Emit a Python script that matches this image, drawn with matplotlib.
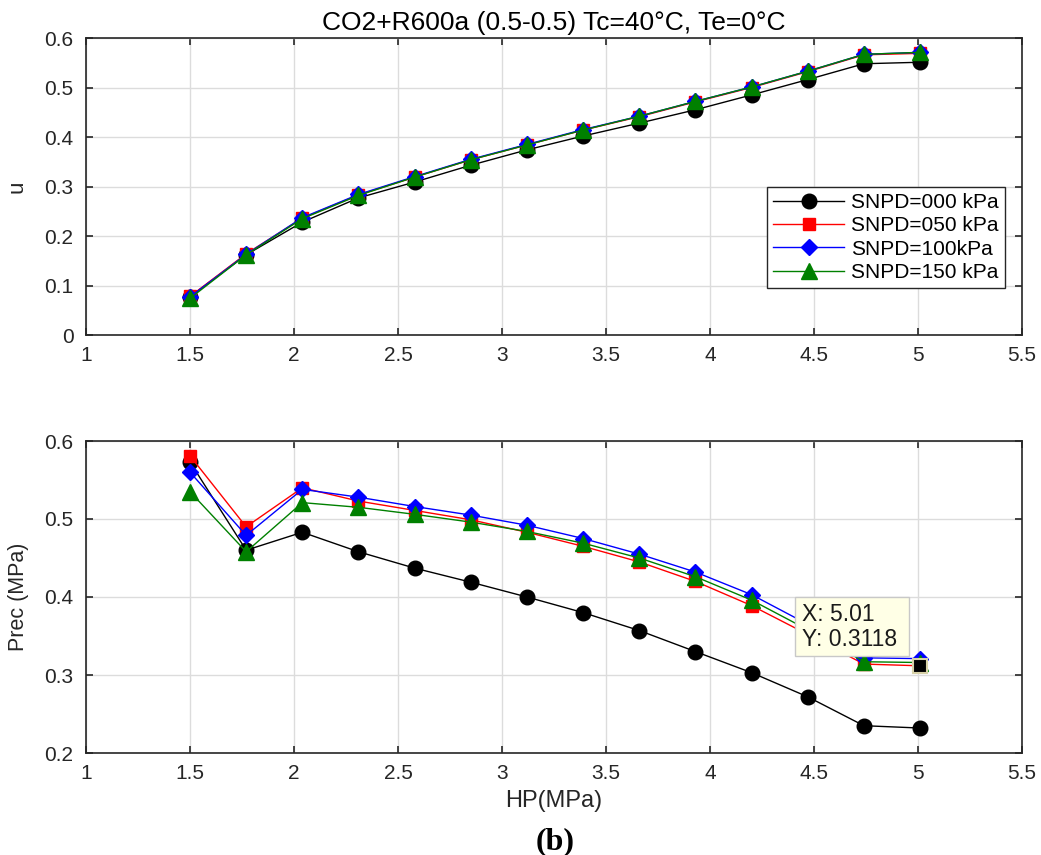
import matplotlib
matplotlib.use("Agg")
import matplotlib.pyplot as plt
from matplotlib.patches import Rectangle

plt.rcParams['font.family'] = ['Liberation Sans', 'DejaVu Sans']

# ---------------- data ----------------
hp = [1.5, 1.77, 2.04, 2.31, 2.58, 2.85, 3.12, 3.39, 3.66, 3.93, 4.2, 4.47, 4.74, 5.01]

u_000 = [0.077, 0.162, 0.228, 0.277, 0.309, 0.343, 0.374, 0.402, 0.428, 0.455, 0.485, 0.516, 0.548, 0.551]
u_050 = [0.078, 0.164, 0.236, 0.283, 0.319, 0.354, 0.384, 0.414, 0.441, 0.471, 0.500, 0.532, 0.566, 0.569]
u_100 = [0.077, 0.163, 0.237, 0.284, 0.320, 0.355, 0.385, 0.415, 0.442, 0.472, 0.501, 0.533, 0.567, 0.571]
u_150 = [0.074, 0.162, 0.235, 0.282, 0.319, 0.354, 0.384, 0.414, 0.442, 0.472, 0.501, 0.533, 0.567, 0.571]

prec_000 = [0.573, 0.460, 0.483, 0.458, 0.437, 0.419, 0.400, 0.380, 0.357, 0.330, 0.303, 0.272, 0.235, 0.232]
prec_050 = [0.581, 0.490, 0.540, 0.523, 0.511, 0.499, 0.483, 0.465, 0.445, 0.420, 0.389, 0.352, 0.314, 0.3118]
prec_100 = [0.560, 0.479, 0.538, 0.528, 0.516, 0.505, 0.492, 0.475, 0.455, 0.432, 0.403, 0.365, 0.322, 0.321]
prec_150 = [0.535, 0.458, 0.521, 0.515, 0.506, 0.496, 0.484, 0.469, 0.450, 0.426, 0.396, 0.358, 0.317, 0.316]

labels = ['SNPD=000 kPa', 'SNPD=050 kPa', 'SNPD=100kPa', 'SNPD=150 kPa']
x_ticks = [1, 1.5, 2, 2.5, 3, 3.5, 4, 4.5, 5, 5.5]
x_ticklabels = ['1', '1.5', '2', '2.5', '3', '3.5', '4', '4.5', '5', '5.5']
u_ticks = [0, 0.1, 0.2, 0.3, 0.4, 0.5, 0.6]
u_ticklabels = ['0', '0.1', '0.2', '0.3', '0.4', '0.5', '0.6']
p_ticks = [0.2, 0.3, 0.4, 0.5, 0.6]
p_ticklabels = ['0.2', '0.3', '0.4', '0.5', '0.6']

tip_x = 5.01
tip_y = 0.3118

# ---------------- styles ----------------
styles = [
    dict(color='black', marker='o', markersize=10.5, markerfacecolor='black', markeredgecolor='black'),
    dict(color='red', marker='s', markersize=8.5, markerfacecolor='red', markeredgecolor='red'),
    dict(color='blue', marker='D', markersize=8.5, markerfacecolor='blue', markeredgecolor='blue'),
    dict(color='#008000', marker='^', markersize=11.5, markerfacecolor='#008000', markeredgecolor='#008000'),
]

W, H = 1041, 855
fig = plt.figure(figsize=(W / 100, H / 100), dpi=100)

ax1 = fig.add_axes([86 / W, (H - 335) / H, 936 / W, 297 / H])
ax2 = fig.add_axes([86 / W, (H - 753) / H, 936 / W, 312 / H])

AXC = '#262626'

def style_axes(ax, yticks, yticklabels, ylim):
    ax.set_xlim(1, 5.5)
    ax.set_ylim(*ylim)
    ax.set_xticks(x_ticks)
    ax.set_xticklabels(x_ticklabels)
    ax.set_yticks(yticks)
    ax.set_yticklabels(yticklabels)
    ax.grid(True, color='#dcdcdc', linewidth=1.0)
    ax.set_axisbelow(True)
    ax.tick_params(direction='in', length=5, width=1.2, colors=AXC,
                   top=True, right=True, labelsize=15)
    ax.tick_params(axis='x', pad=8)
    ax.tick_params(axis='y', pad=9)
    for s in ax.spines.values():
        s.set_color(AXC)
        s.set_linewidth(1.2)

u_series = [u_000, u_050, u_100, u_150]
p_series = [prec_000, prec_050, prec_100, prec_150]

for ys, st, lab in zip(u_series, styles, labels):
    ax1.plot(hp, ys, linewidth=1.0, label=lab, **st)
for ys, st in zip(p_series, styles):
    ax2.plot(hp, ys, linewidth=1.0, **st)

style_axes(ax1, u_ticks, u_ticklabels, (0, 0.6))
style_axes(ax2, p_ticks, p_ticklabels, (0.2, 0.6))

ax1.set_title('CO2+R600a (0.5-0.5) Tc=40°C, Te=0°C', fontsize=19, color='black', pad=6)
ax1.set_ylabel('u', fontsize=16, color=AXC, labelpad=12)
ax2.set_ylabel('Prec (MPa)', fontsize=15.5, color=AXC, labelpad=11)
ax2.set_xlabel('HP(MPa)', fontsize=17, color=AXC, labelpad=5)

leg = ax1.legend(loc='lower right', bbox_to_anchor=(0.982, 0.158), borderaxespad=0,
                 fontsize=15, handlelength=3.4, handletextpad=0.35, labelspacing=0.2,
                 borderpad=0.3, fancybox=False, framealpha=1, edgecolor=AXC)
leg.get_frame().set_linewidth(1.0)

# data tip
ax2.add_patch(Rectangle((4.41, 0.324), 0.547, 0.076, facecolor='#ffffe6',
                        edgecolor='#c8c8c8', linewidth=1.0, zorder=5))
ax2.text(4.44, 0.378, 'X: 5.01', fontsize=16.5, va='center', ha='left', zorder=6, color='#1a1a1a')
ax2.text(4.44, 0.345, 'Y: 0.3118', fontsize=16.5, va='center', ha='left', zorder=6, color='#1a1a1a')
ax2.plot([tip_x], [tip_y], marker='s', markersize=10, markerfacecolor='black',
         markeredgecolor='#d8d2a8', markeredgewidth=1.5, zorder=7)

fig.text(555 / W, 1 - 842 / H, '(b)', fontsize=23, fontweight='bold',
         family=['Liberation Serif', 'DejaVu Serif'], ha='center', va='center')

fig.savefig('out.png', dpi=100)
